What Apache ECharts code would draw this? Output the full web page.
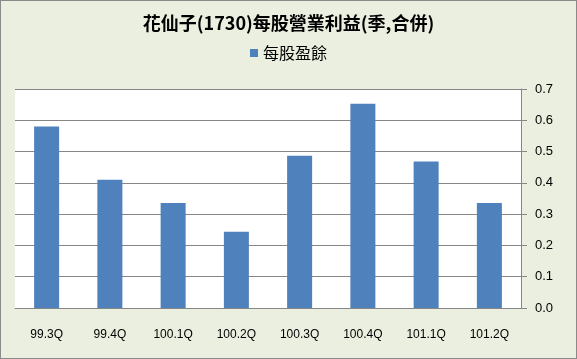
<!DOCTYPE html>
<html><head><meta charset="utf-8">
<script src="https://cdn.jsdelivr.net/npm/echarts@6/dist/echarts.min.js"></script>
<style>
html,body{margin:0;padding:0;background:#fff;}
#c{width:575px;height:357px;border:1px solid #8a8a8a;background:#EBEFDF;}
</style></head>
<body><div id="c"></div>
<script>
const titleText = '花仙子(1730)每股營業利益(季,合併)';
const seriesName = '每股盈餘';
const categories = ['99.3Q','99.4Q','100.1Q','100.2Q','100.3Q','100.4Q','101.1Q','101.2Q'];
const eps = [0.58, 0.41, 0.336, 0.244, 0.487, 0.653, 0.468, 0.336];

const chart = echarts.init(document.getElementById('c'), null, {renderer:'canvas'});
chart.setOption({
  backgroundColor: '#EBEFDF',
  animation: false,
  title: {
    text: titleText, left: 'center', top: 13, padding: 0,
    textStyle: {fontFamily: '"Noto Sans CJK TC", sans-serif', fontSize: 18, fontWeight: 'bold', color: '#000'}
  },
  legend: {
    data: [seriesName], top: 44, left: 'center', padding: 0,
    itemWidth: 8, itemHeight: 8, itemGap: 5, icon: 'rect',
    textStyle: {fontFamily: '"Noto Sans CJK TC", sans-serif', fontSize: 16, color: '#000', padding: [0,0,0,0]}
  },
  grid: {left: 14, right: 55, top: 88, bottom: 50, show: true, backgroundColor: '#fff', borderWidth: 0},
  xAxis: {
    type: 'category', data: categories,
    axisLine: {show: true, lineStyle: {color: '#868686'}},
    axisTick: {show: false},
    axisLabel: {color: '#000', fontSize: 12, fontFamily: '"Liberation Sans", sans-serif', margin: 21}
  },
  yAxis: {
    type: 'value', position: 'right', min: 0, max: 0.7, interval: 0.1,
    axisLine: {show: true, lineStyle: {color: '#868686'}},
    axisTick: {show: true, length: 6, lineStyle: {color: '#868686'}},
    splitLine: {show: true, lineStyle: {color: '#868686', width: 1}},
    axisLabel: {color: '#000', fontSize: 13, fontFamily: '"Liberation Sans", sans-serif', margin: 14,
      formatter: v => v.toFixed(1)}
  },
  series: [{
    name: seriesName, type: 'bar', data: eps, barWidth: 25,
    itemStyle: {color: '#4F81BD'}
  }]
});
</script></body></html>
